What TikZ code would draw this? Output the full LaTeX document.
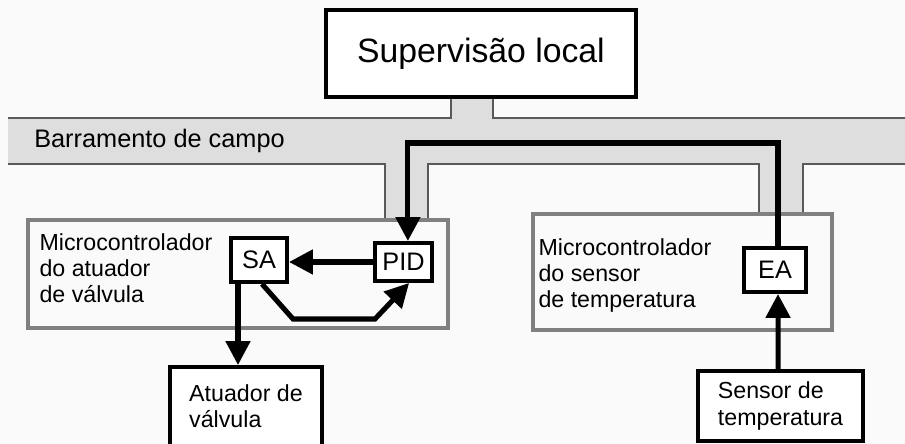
\documentclass[tikz,border=0pt]{standalone}
\usepackage{fontspec}
\setmainfont{Liberation Sans}
\usetikzlibrary{arrows.meta}

\tikzset{
  blackbox/.style={draw=black, line width=2.8pt, fill=white, align=left, inner sep=0pt},
  mcbox/.style={draw=black!50, line width=2.4pt, fill=black!2},
  mclabel/.style={align=left, inner sep=0pt, font=\fontsize{16.5}{18.6}\selectfont},
  fblock/.style={blackbox, font=\fontsize{18}{20}\selectfont},
  sig/.style={line width=3.6pt, -{Triangle[length=17pt,width=17pt]}},
  busedge/.style={draw=black!65, line width=0.8pt},
}

\begin{document}
\begin{tikzpicture}[x=0.025cm, y=-0.025cm]
\clip (0,0) rectangle (905,444);
\fill[black!2] (0,0) rectangle (905,444);

% fieldbus
\fill[black!13] (8,118) -- (451,118) -- (451,97) -- (493,97) -- (493,118) -- (905,118)
  -- (905,164) -- (803,164) -- (803,214) -- (759,214) -- (759,164) -- (428,164)
  -- (428,220) -- (385,220) -- (385,164) -- (8,164) -- cycle;
\draw[busedge] (8,118) -- (451,118) -- (451,97);
\draw[busedge] (493,97) -- (493,118) -- (905,118);
\draw[busedge] (905,164) -- (803,164) -- (803,214);
\draw[busedge] (759,214) -- (759,164) -- (428,164) -- (428,220);
\draw[busedge] (385,220) -- (385,164) -- (8,164);
\node[anchor=west, inner sep=0pt, font=\fontsize{18}{20}\selectfont] (buslbl) at (34,141) {Barramento de campo};

% boxes
\node[blackbox, minimum width=7.75cm, minimum height=2.175cm, font=\fontsize{24}{27}\selectfont] (sup) at (481,53.5) {Supervisão local};
\node[mcbox, minimum width=10.5cm, minimum height=2.7cm] (mcA) at (238,274) {};
\node[mcbox, minimum width=7.475cm, minimum height=2.9cm] (mcS) at (682.5,272) {};
\node[mclabel, anchor=north west] (mcAlbl) at ([xshift=0.325cm,yshift=-0.375cm]mcA.north west) {Microcontrolador\\do atuador\\de válvula};
\node[mclabel, anchor=north west] (mcSlbl) at ([xshift=0.175cm,yshift=-0.65cm]mcS.north west) {Microcontrolador\\do sensor\\de temperatura};

\node[fblock, minimum width=1.4cm, minimum height=1.1cm] (sa) at (259,260) {SA};
\node[fblock, minimum width=1.425cm, minimum height=0.95cm] (pid) at (403.5,262) {PID};
\node[fblock, minimum width=1.55cm, minimum height=1.1cm] (ea) at (775,270) {EA};

\node[blackbox, minimum width=3.8cm, minimum height=1.975cm, font=\fontsize{16.5}{18.6}\selectfont] (atu) at (246,406.5) {Atuador de\\válvula};
\node[blackbox, minimum width=4.125cm, minimum height=1.75cm, font=\fontsize{16.5}{18.6}\selectfont] (sen) at (780.5,406) {Sensor de\\temperatura};

% signals
\coordinate (busmid) at (600,143);
\draw[sig] ([xshift=0.075cm]ea.north) -- ([xshift=0.075cm]ea.north |- busmid)
  -- ([xshift=0.11cm]pid.north |- busmid) -- ([xshift=0.11cm]pid.north);
\draw[sig] (pid.west) -- (pid.west -| sa.east);
\draw[sig] ([xshift=0.075cm]sa.south) -- ++(31,35) -- ++(82,0) -- ([xshift=0.14cm]pid.south);
\draw[sig] ([xshift=-0.525cm]sa.south) -- ([xshift=-0.525cm]sa.south |- atu.north);
\draw[sig] ([xshift=-0.06cm]sen.north) -- ([xshift=0.075cm]ea.south);
\end{tikzpicture}
\end{document}
